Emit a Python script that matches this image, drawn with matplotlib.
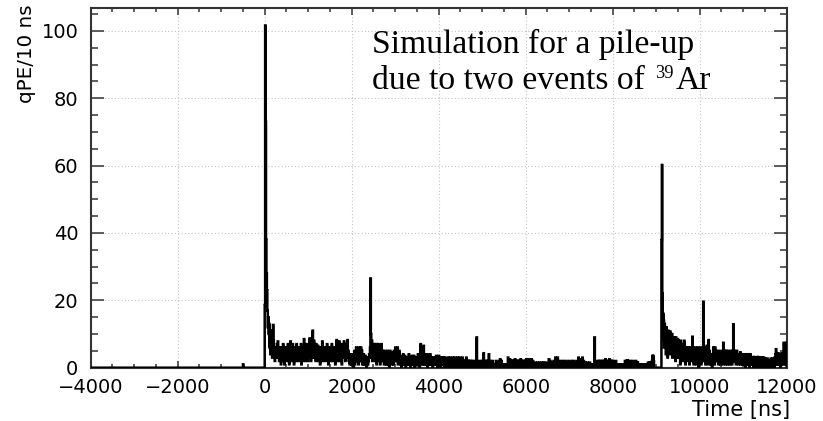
import numpy as np
import matplotlib
matplotlib.use('Agg')
import matplotlib.pyplot as plt
from matplotlib.ticker import MultipleLocator, FixedLocator

# ---------------- data (qPE per 10 ns bin) ----------------
bin_width = 10
t_start = -4000

pre_trigger = [0] * 350 + [1] + [0] * 49   # -4000 .. 0 ns

seg_0000 = [18.6, 101.6, 73, 38, 28, 23, 17, 12, 15, 10,
            13, 6, 11, 4, 9, 5, 11, 3, 8, 12.7,
            8, 4, 6, 2, 5, 3, 6, 4, 7, 5,
            7.8, 3, 6, 2, 5, 4, 6, 1, 5, 3,
            6, 2, 7, 4, 5, 1, 6, 3, 5, 4,
            4, 6, 2, 7, 3, 5, 1, 6, 4, 7.8,
            3, 6, 5, 2, 7, 4, 6, 1, 5, 3,
            6, 4, 2, 7, 3, 5, 4, 6, 2, 5,
            3, 6, 4, 7, 1, 5, 3, 6, 2, 4,
            8.5, 3, 5, 6, 2, 4, 7, 3, 5, 2]

seg_1000 = [6, 3, 5, 8.7, 4, 6, 2, 7, 5, 3,
            11, 6, 4, 8, 3, 6, 5, 2, 7, 4,
            5, 3, 6.5, 2, 5, 4, 6, 1, 5, 3,
            6, 2, 7.8, 4, 5, 3, 6, 2, 4, 5,
            3, 6, 4, 7, 2, 5, 1, 6, 3, 4,
            6, 2, 5, 3, 7, 4, 2, 6, 3, 5,
            4, 6, 1, 5, 3, 8.2, 4, 2, 6, 3,
            5, 7.8, 2, 6, 4, 3, 7, 1, 5, 4,
            6, 3, 7.8, 4, 5, 2, 6, 3, 7, 4,
            8.2, 4, 5, 2, 3, 1, 4, 2, 3, 1]

seg_2000 = [2, 4, 1, 3, 0, 2, 5, 1, 3, 2,
            6, 2, 5, 3, 4, 1, 6, 3, 5, 2,
            4, 6, 2, 5, 1, 3, 2, 4, 1, 3,
            2, 3.5, 1, 3, 0, 2, 3, 1, 2, 3,
            4, 3, 6, 26.5, 10, 5, 8, 2, 7, 4,
            6, 3, 7, 2, 5, 4, 7, 1, 6, 3,
            5, 7, 2, 4, 6, 1, 5, 3, 7, 4,
            3, 5, 2, 4, 1, 3, 5, 2, 4, 1,
            4, 2, 5, 1, 3, 4, 0, 3, 5, 2,
            3, 4.5, 1, 3, 2, 4, 1, 5, 2, 3]

seg_3000 = [6, 3, 5, 2, 4, 6, 1, 4, 3, 5,
            2, 3.5, 1, 3, 0, 2, 3, 1, 4, 2,
            3, 1, 3.5, 2, 0, 3, 1, 2, 3, 1,
            2, 4, 1, 3, 2, 0, 3, 1, 3.5, 2,
            1, 3, 2, 3.5, 0, 2, 1, 3, 2, 1,
            3, 2, 4, 1, 2, 3, 0, 2, 7, 3,
            2, 5, 1, 3, 2, 6.5, 1, 3, 2, 4,
            1, 3, 2, 4, 0, 2, 3, 1, 3, 2,
            4, 1, 2, 3, 1, 2, 0, 3, 2, 1,
            2, 3, 1, 2, 3.5, 1, 2, 0, 3, 2]

seg_4000 = [3.5, 1, 2, 3, 0, 2, 1, 3, 2, 1,
            2, 3, 0, 2, 1, 3, 2, 0, 2.5, 1,
            1, 2, 3, 1, 0, 2, 3, 1, 2, 0,
            2, 1, 3, 2, 0, 1, 2, 3, 1, 2,
            0, 2, 1, 3, 2, 1, 0, 2, 3, 1,
            2, 0, 1, 2, 3, 1, 2, 0, 1, 2,
            1, 2, 0, 3, 1, 2, 1, 0, 2, 1,
            2, 1, 0, 1, 2, 0, 1, 2, 1, 0,
            1, 0, 1, 2, 0, 1, 0, 9, 1, 0,
            1, 0, 2, 1, 0, 1, 0, 1, 2, 0]

seg_5000 = [1, 2, 0, 4.3, 1, 0, 2, 1, 0, 1,
            2, 0, 1, 2, 0, 4, 1, 0, 2, 1,
            0, 1, 0, 1, 2, 0, 1, 0, 1, 0,
            1, 0, 2, 1, 0, 1, 0, 1, 0, 2,
            1, 2.5, 0, 1, 2, 0, 1, 0, 0, 1,
            0, 1, 0, 0, 1, 0, 1, 0, 1, 3,
            1, 2, 0, 2.5, 1, 0, 2, 1, 2, 0,
            2, 1, 0, 2, 1, 2.5, 0, 1, 2, 1,
            0, 2, 1, 2, 0, 1, 2, 0, 2.5, 1,
            2, 0, 1, 2, 1, 0, 2, 1, 0, 2]

seg_6000 = [1, 2.5, 0, 1, 2, 0, 1, 2.5, 1, 0,
            2, 1, 0, 2.5, 1, 0, 2, 1, 0, 1,
            0, 1, 1.5, 0, 1, 0, 1, 1.5, 0, 1,
            1, 0, 1.5, 1, 0, 1, 0, 1.5, 1, 0,
            1, 1.5, 0, 1, 0, 1, 1.5, 0, 1, 0,
            1, 0, 1, 2.5, 1, 0, 2, 1, 0, 1,
            0, 1, 0, 1, 2, 0, 1, 0, 3, 1,
            2, 0, 1, 3, 1, 0, 1.5, 1, 0, 2,
            1, 0, 1.5, 1, 0, 2, 1, 0, 1, 0,
            1, 2, 0, 1, 0, 1.5, 1, 0, 2, 1]

seg_7000 = [0, 1, 1.5, 0, 1, 2, 0, 1, 0, 1,
            2, 0, 1, 1.5, 0, 1, 0, 2, 1, 0,
            1, 3, 0, 1, 2, 0, 2.5, 1, 0, 2,
            3, 1, 0, 2, 1, 0, 1, 1.5, 0, 1,
            0, 1, 1.5, 0, 1, 0, 1, 1.5, 0, 1,
            0, 1, 0, 1, 0, 1, 0, 1, 9, 1,
            0, 1, 0, 1, 2, 0, 1, 0, 2, 1,
            0, 2, 1, 0, 1, 2, 0, 1, 2, 0,
            1, 2, 0, 2.5, 1, 0, 2, 1, 0, 2,
            1, 0, 2.5, 1, 0, 2, 1, 0, 2, 1]

seg_8000 = [2, 1, 0, 1.8, 1, 0, 1, 2, 0, 1,
            1, 0, 1, 0, 1, 0, 1, 0, 0, 1,
            0, 1, 0, 1, 0, 1, 0, 1, 2, 0,
            1, 2, 0, 1, 2.2, 1, 0, 1.6, 1, 0,
            2, 1, 0, 1.6, 1, 0, 2, 1, 0, 1,
            1.6, 0, 1, 2, 0, 1, 0, 1.6, 1, 0,
            1, 0, 1, 0, 0, 1, 0, 1, 0, 0,
            1, 0, 0, 1, 0, 1, 0, 0, 1, 0,
            1, 1.5, 0, 1, 0, 1.5, 1, 0, 1, 0,
            2, 3.5, 3, 3.5, 2, 0, 0, 0, 0, 0]

seg_9000 = [0, 0, 0, 0, 0, 0, 0, 0, 0, 0,
            0, 0, 37.9, 60.2, 22, 8, 16, 14, 6, 13,
            9, 11, 4, 12, 7, 10, 3, 11, 8, 10.7,
            5, 9, 10.7, 4, 8, 6, 10, 3, 9, 7,
            9, 4, 8, 6, 2, 9, 5, 7, 3, 8.5,
            6, 8, 3, 7, 5, 1, 8, 4, 6, 3,
            7, 2, 6, 5, 8, 3, 6, 1, 5, 4,
            6, 3, 5, 2, 6, 4, 1, 5, 3, 6,
            2, 5, 4, 9.2, 3, 6, 1, 4, 5, 2,
            6, 3, 1, 5, 2, 4, 6, 0, 3, 5]

seg_10000 = [2, 4, 6, 1, 3, 5, 2, 2, 19.6, 3,
             5, 2, 6, 1, 4, 3, 6.5, 2, 5, 1,
             8.2, 3, 5, 2, 4, 1, 3, 2, 0, 4,
             2, 6, 3, 5, 1, 6, 4, 2, 5, 3,
             4.6, 2, 3, 1, 5, 3.7, 2, 4, 1, 3,
             2, 5, 3, 1, 7.4, 4, 2, 5, 3, 1,
             5, 2, 4, 3, 1, 5, 2, 3, 4, 1,
             3, 5, 2, 4, 1, 3, 5, 12.9, 2, 4,
             5, 2, 4, 1, 3, 5, 2, 4, 3, 1,
             4, 2, 3, 4.6, 1, 3, 2, 4, 1, 3]

seg_11000 = [2, 4, 1, 3, 3.5, 0, 2, 4, 1, 3,
             3, 1, 4, 2, 0, 3, 4, 1, 2, 3,
             1, 3, 2, 0, 3.2, 1, 2, 3, 1, 0,
             2, 3, 1, 3.2, 0, 2, 1, 3, 2, 1,
             3, 0, 2, 1, 3, 2, 0, 3, 1, 2,
             2.7, 1, 0, 2, 1, 2.7, 0, 1, 2, 1,
             0, 2, 1, 2.7, 0, 1, 2, 0, 2.7, 1,
             2, 0, 3, 1, 4, 5.5, 2, 4.3, 1, 3,
             4.3, 1, 3, 2, 4, 0, 3, 1, 4.3, 2,
             3, 1, 4, 7.4, 2, 5, 1, 4, 3, 7.4]

x_ticks = [-4000, -2000, 0, 2000, 4000, 6000, 8000, 10000, 12000]
y_ticks = [0, 20, 40, 60, 80, 100]

values = np.array(pre_trigger + seg_0000 + seg_1000 + seg_2000 + seg_3000 +
                  seg_4000 + seg_5000 + seg_6000 + seg_7000 + seg_8000 +
                  seg_9000 + seg_10000 + seg_11000, dtype=float)
edges = t_start + bin_width * np.arange(len(values) + 1)

# ---------------- figure ----------------
W, H = 823, 421
fig = plt.figure(figsize=(W / 100, H / 100), dpi=100)
ax = fig.add_axes([90.7 / W, 1 - 367.7 / H, (786.7 - 90.7) / W, (367.7 - 8.3) / H])

frame_col = '#333333'
ax.stairs(values, edges, color='black', linewidth=1.8, zorder=3)

ax.set_xlim(-4000, 12000)
ax.set_ylim(0, 106.7)

ax.xaxis.set_major_locator(FixedLocator(x_ticks))
ax.yaxis.set_major_locator(FixedLocator(y_ticks))
ax.xaxis.set_minor_locator(MultipleLocator(500))
ax.yaxis.set_minor_locator(MultipleLocator(5))

ax.grid(True, which='major', color='#c4c4c4', linestyle=(0, (1, 2)), linewidth=0.8, zorder=0)
ax.set_axisbelow(True)

for s in ax.spines.values():
    s.set_color(frame_col)
    s.set_linewidth(1.5)

ax.tick_params(which='both', direction='in', top=True, right=True,
               color=frame_col, width=1.1, labelsize=14, labelcolor='black')
ax.tick_params(axis='x', which='major', length=5.0, pad=7.2)
ax.tick_params(axis='x', which='minor', length=2.6)
ax.tick_params(axis='y', which='major', length=9.4, pad=8.8)
ax.tick_params(axis='y', which='minor', length=5.0)

fig.text(27 / W, 1 - 4 / H, 'qPE/10 ns', rotation=90, ha='center', va='top', fontsize=14.3)
fig.text(790 / W, 1 - 410 / H, 'Time [ns]', ha='right', va='center', fontsize=15)

# annotation text (serif)
serif = 'Liberation Serif'
tx = 0.4037
ax.text(tx, 0.8748, 'Simulation for a pile-up', transform=ax.transAxes,
        ha='left', va='baseline', fontsize=24.2, family=serif)
t2 = ax.text(tx, 0.7746, 'due to two events of', transform=ax.transAxes,
             ha='left', va='baseline', fontsize=24.2, family=serif)
fig.canvas.draw()
r = fig.canvas.get_renderer()
bb = t2.get_window_extent(r)
base_disp = ax.transAxes.transform((tx, 0.7746))[1]
inv = fig.transFigure.inverted()
x_sup = bb.x1 + 11
t3 = fig.text(*inv.transform((x_sup, base_disp + 11)), '39', ha='left', va='baseline',
              fontsize=13.2, family=serif)
fig.canvas.draw()
bb3 = t3.get_window_extent(r)
fig.text(*inv.transform((bb3.x1 + 2, base_disp)), 'Ar', ha='left', va='baseline',
         fontsize=24.2, family=serif)

fig.savefig('out.png', dpi=100)
